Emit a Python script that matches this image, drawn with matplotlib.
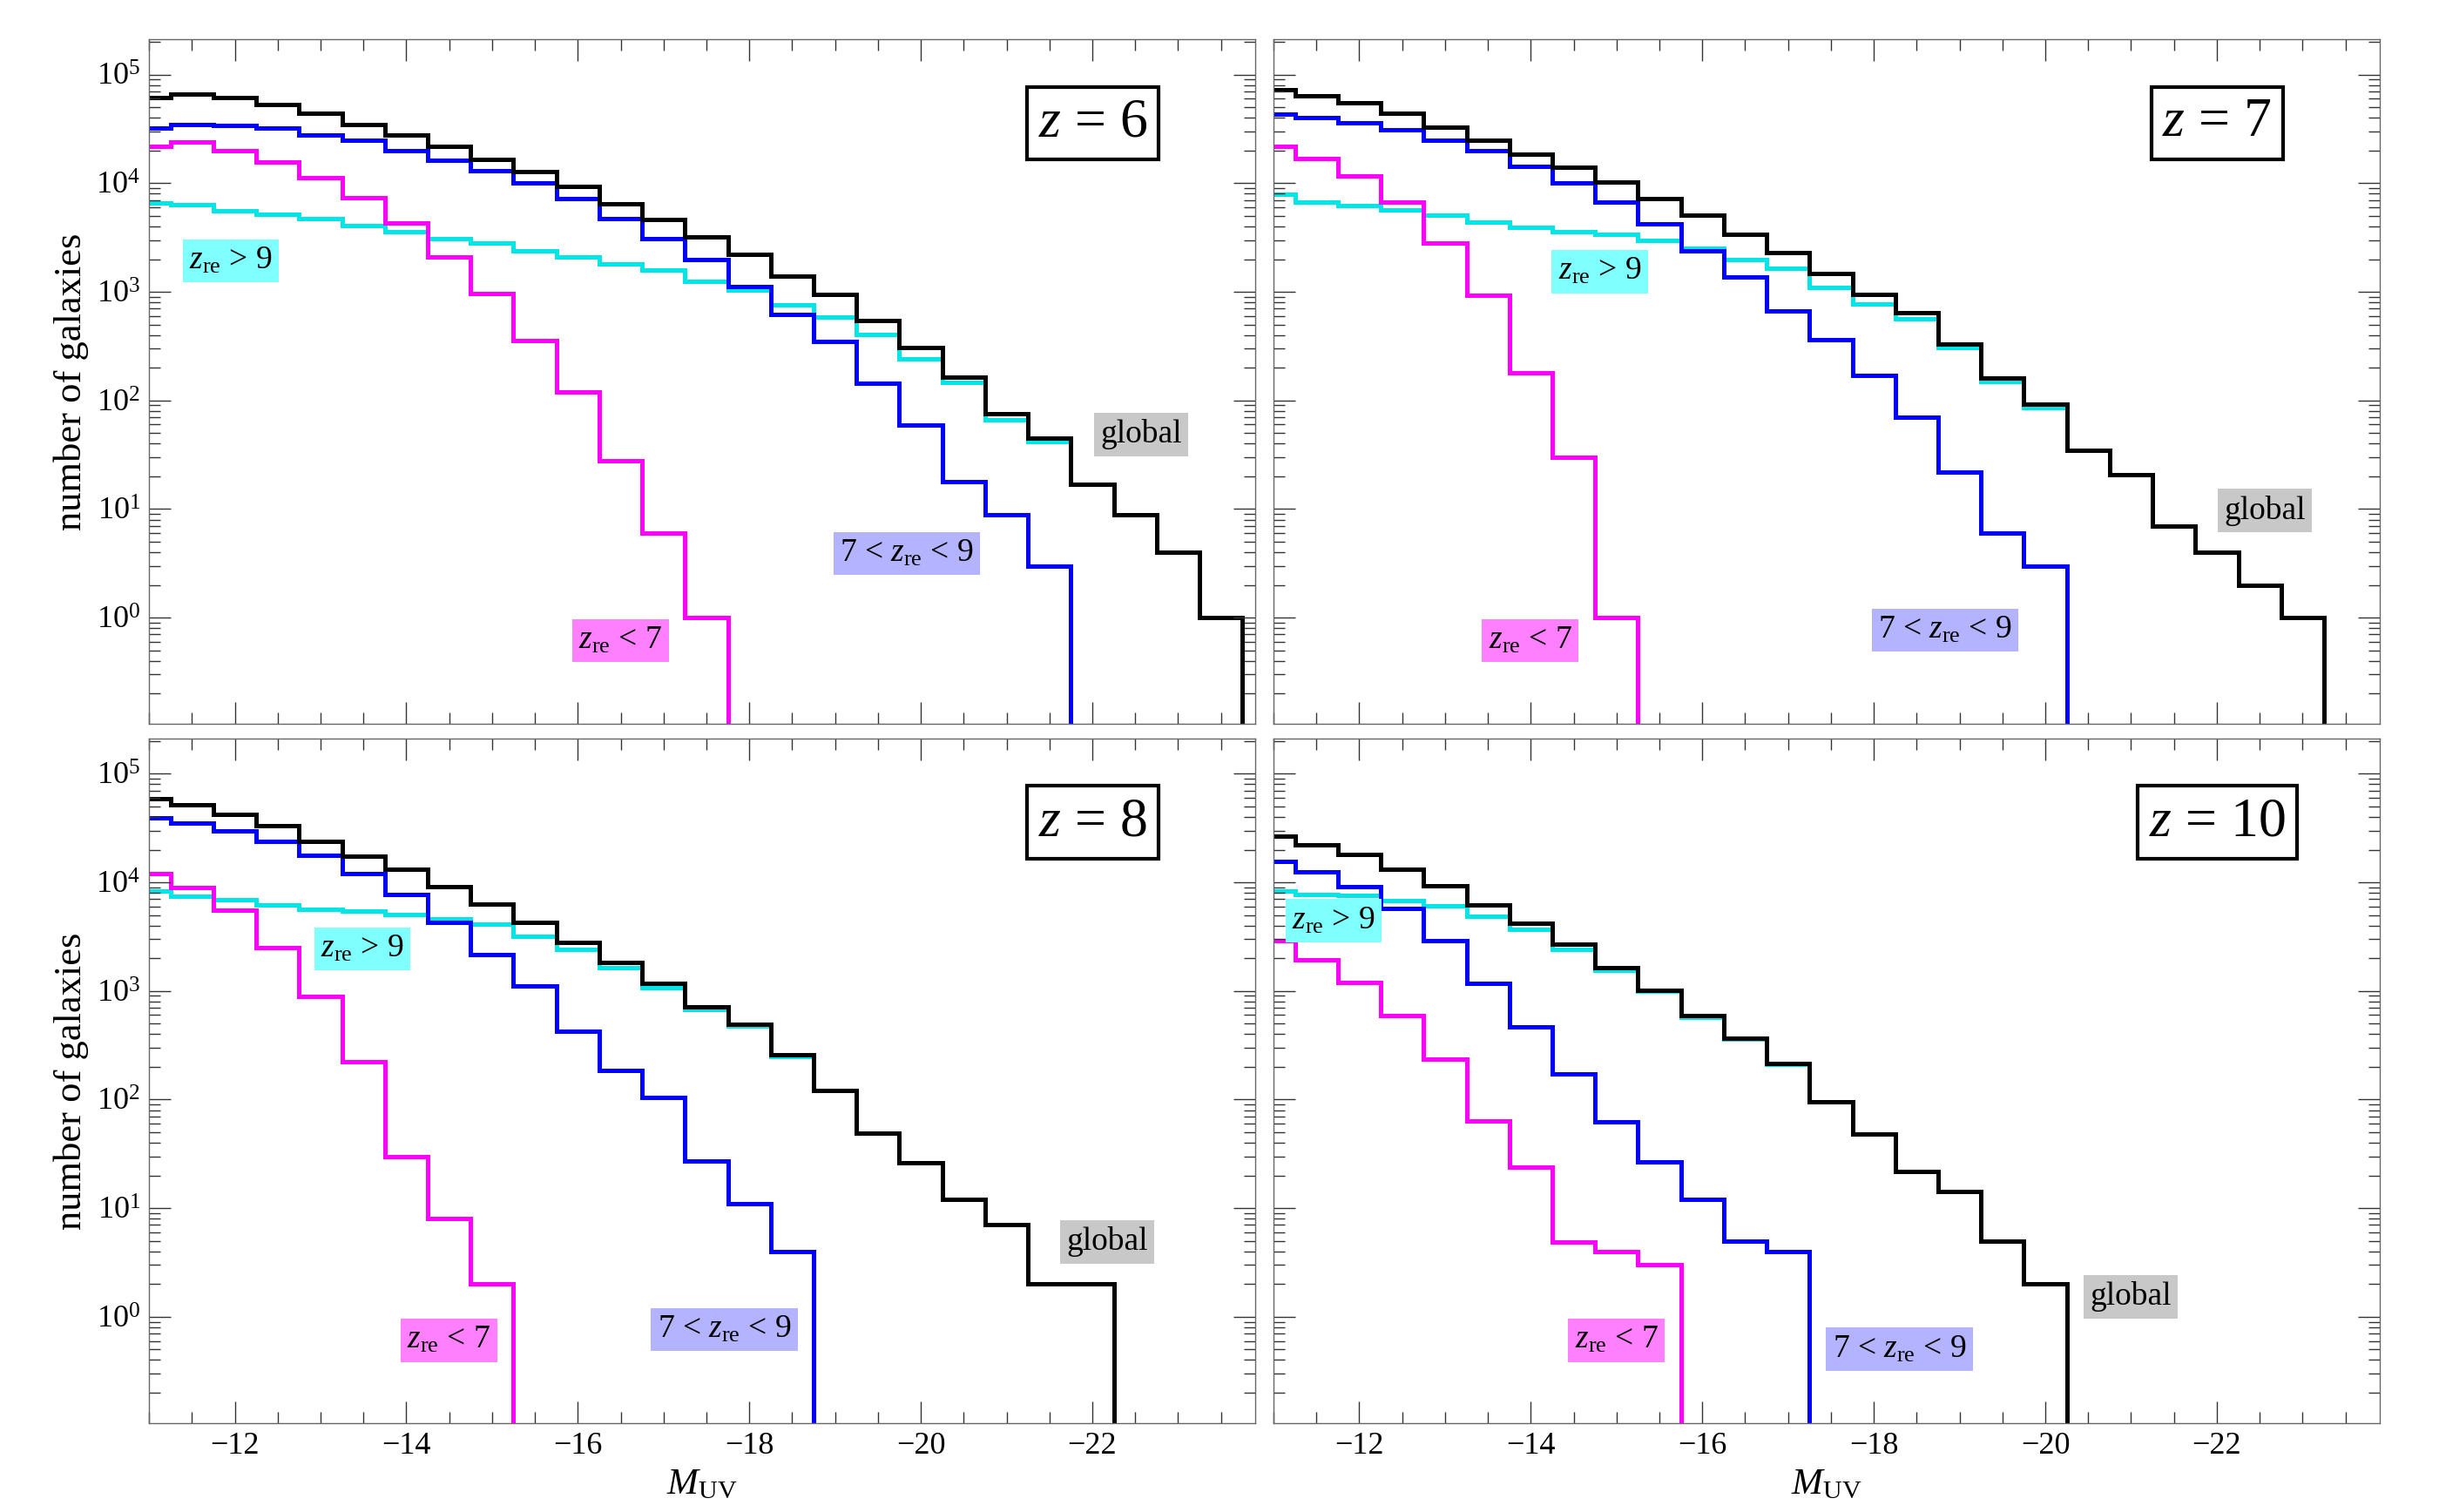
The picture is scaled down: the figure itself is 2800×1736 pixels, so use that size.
import numpy as np
import matplotlib
matplotlib.use("Agg")
import matplotlib.pyplot as plt
from matplotlib.ticker import MultipleLocator, LogLocator, NullFormatter

plt.rcParams['font.family'] = ['Liberation Serif', 'DejaVu Serif']
plt.rcParams['mathtext.fontset'] = 'custom'
plt.rcParams['mathtext.rm'] = 'Liberation Serif'
plt.rcParams['mathtext.it'] = 'Liberation Serif:italic'
plt.rcParams['mathtext.bf'] = 'Liberation Serif:bold'

# bin centres in M_UV (bins of 0.5 mag)
mag_centers = np.arange(-11.0, -24.0, -0.5)

redshifts = [6, 7, 8, 10]

# number of galaxies per bin
# global = all galaxies, early: z_re > 9, mid: 7 < z_re < 9, late: z_re < 7
global_z6 = [6.1e4, 6.6e4, 6.1e4, 5.3e4, 4.4e4, 3.5e4, 2.8e4, 2.2e4, 1.66e4, 1.27e4,
             9.3e3, 6.5e3, 4.6e3, 3.2e3, 2.2e3, 1.4e3, 940, 547, 305, 165, 75, 45,
             17, 8.8, 4, 1]
early_z6 = [6.6e3, 6.3e3, 5.6e3, 5.2e3, 4.7e3, 4.1e3, 3.6e3, 3.1e3, 2.8e3, 2.4e3,
            2.1e3, 1.8e3, 1.6e3, 1.24e3, 1.03e3, 760, 588, 406, 241, 146, 66, 42,
            17, 8.8, 4, 1]
mid_z6 = [3.2e4, 3.5e4, 3.4e4, 3.2e4, 2.8e4, 2.5e4, 2.0e4, 1.64e4, 1.3e4, 1.0e4,
          7.2e3, 4.7e3, 3.1e3, 2.0e3, 1.12e3, 625, 348, 144, 59, 17.8, 8.9, 3]
late_z6 = [2.2e4, 2.4e4, 2.0e4, 1.58e4, 1.13e4, 7.3e3, 4.3e3, 2.1e3, 970, 356,
           120, 27.7, 6, 1]

global_z7 = [7.3e4, 6.4e4, 5.5e4, 4.4e4, 3.3e4, 2.5e4, 1.86e4, 1.41e4, 1.03e4, 7.2e3,
             5.1e3, 3.4e3, 2.3e3, 1.48e3, 942, 645, 328, 160, 92, 34.7, 20.8, 7.0,
             4.0, 2.0, 1]
early_z7 = [7.9e3, 6.7e3, 6.2e3, 5.7e3, 5.1e3, 4.4e3, 3.9e3, 3.6e3, 3.4e3, 3.0e3,
            2.5e3, 2.0e3, 1.64e3, 1.1e3, 768, 565, 305, 149, 86.5, 34.7, 20.8, 7.0,
            4.0, 2.0, 1]
mid_z7 = [4.3e4, 4.0e4, 3.6e4, 3.1e4, 2.5e4, 2.0e4, 1.44e4, 1.0e4, 6.7e3, 4.2e3,
          2.4e3, 1.38e3, 665, 360, 170, 70, 22, 6, 3]
late_z7 = [2.2e4, 1.7e4, 1.17e4, 6.7e3, 2.8e3, 922, 179, 30, 1]

global_z8 = [5.9e4, 5.2e4, 4.2e4, 3.3e4, 2.4e4, 1.75e4, 1.31e4, 9.1e3, 6.3e3, 4.3e3,
             2.8e3, 1.84e3, 1.18e3, 718, 493, 261, 122, 49, 26, 12, 7.0, 2.0, 2.0]
early_z8 = [8.4e3, 7.5e3, 6.9e3, 6.2e3, 5.7e3, 5.4e3, 5.1e3, 4.6e3, 4.1e3, 3.2e3,
            2.4e3, 1.65e3, 1.08e3, 681, 478, 250, 122, 49, 26, 12, 7.0, 2.0, 2.0]
mid_z8 = [3.95e4, 3.5e4, 3.0e4, 2.4e4, 1.79e4, 1.2e4, 7.7e3, 4.3e3, 2.15e3, 1.12e3,
          426, 187, 104, 27, 11, 4.0]
late_z8 = [1.21e4, 8.9e3, 5.5e3, 2.5e3, 893, 225, 29.7, 8.1, 2.0]

global_z10 = [2.65e4, 2.2e4, 1.8e4, 1.32e4, 9.3e3, 6.2e3, 4.2e3, 2.7e3, 1.64e3, 1.02e3,
              595, 368, 216, 95, 48, 21.7, 14.2, 5.0, 2.0]
early_z10 = [8.4e3, 7.7e3, 7.6e3, 6.8e3, 6.1e3, 4.9e3, 3.7e3, 2.4e3, 1.54e3, 990,
             570, 363, 212, 95, 48, 21.7, 14.2, 5.0, 2.0]
mid_z10 = [1.56e4, 1.24e4, 9.2e3, 5.8e3, 2.9e3, 1.17e3, 468, 173, 62, 26.5, 12.1, 5.0, 4.0]
late_z10 = [2.9e3, 1.93e3, 1.2e3, 595, 235, 64, 24, 4.9, 4.0, 3.0]

series_names = ["early", "late", "mid", "global"]
series_colors = {"early": "#00e6e6", "late": "#ff00ff", "mid": "#0000ff", "global": "black"}
label_texts = {"early": r"$z_{\rm re}$ > 9", "mid": r"7 < $z_{\rm re}$ < 9",
               "late": r"$z_{\rm re}$ < 7", "global": "global"}
label_colors = {"early": "#80ffff", "mid": "#b3b3ff", "late": "#ff80ff", "global": "#c8c8c8"}

data = {
    6: {"global": global_z6, "early": early_z6, "mid": mid_z6, "late": late_z6},
    7: {"global": global_z7, "early": early_z7, "mid": mid_z7, "late": late_z7},
    8: {"global": global_z8, "early": early_z8, "mid": mid_z8, "late": late_z8},
    10: {"global": global_z10, "early": early_z10, "mid": mid_z10, "late": late_z10},
}

# label positions (axes fraction) per panel
label_pos = {
    6: {"early": (0.074, 0.677), "global": (0.897, 0.423), "mid": (0.685, 0.249), "late": (0.426, 0.122)},
    7: {"early": (0.295, 0.661), "global": (0.896, 0.312), "mid": (0.607, 0.137), "late": (0.232, 0.122)},
    8: {"early": (0.193, 0.693), "global": (0.866, 0.265), "mid": (0.520, 0.137), "late": (0.271, 0.121)},
    10: {"early": (0.0545, 0.734), "global": (0.775, 0.185), "mid": (0.566, 0.108), "late": (0.310, 0.121)},
}

fig, axes = plt.subplots(2, 2, figsize=(14, 8.68), dpi=200, sharex=True, sharey=True)
fig.subplots_adjust(left=0.0611, right=0.9757, bottom=0.0588, top=0.9738,
                    wspace=0.0165, hspace=0.0216)

for ax, z in zip(axes.flat, redshifts):
    for name in series_names:
        vals = np.array(data[z][name], dtype=float)
        cen = mag_centers[:len(vals)]
        edges = np.append(cen + 0.25, cen[-1] - 0.25)
        ax.stairs(vals, edges, baseline=1e-3, color=series_colors[name], lw=1.8)

    for name in ["early", "mid", "late", "global"]:
        x, y = label_pos[z][name]
        ax.text(x, y, label_texts[name], transform=ax.transAxes, ha='center', va='center',
                fontsize=13.5, zorder=5,
                bbox=dict(boxstyle='square,pad=0.2', fc=label_colors[name], ec='none'))

    ax.text(0.853, 0.878, r"$z$ = %d" % z, transform=ax.transAxes, ha='center', va='center',
            fontsize=23, zorder=5,
            bbox=dict(boxstyle='square,pad=0.2', fc='white', ec='black', lw=1.5))

    ax.set_yscale('log')
    ax.set_xlim(-11, -23.9)
    ax.set_ylim(0.105, 2.1e5)
    ax.xaxis.set_major_locator(MultipleLocator(2))
    ax.xaxis.set_minor_locator(MultipleLocator(0.5))
    ax.yaxis.set_major_locator(LogLocator(base=10, numticks=20))
    ax.yaxis.set_minor_locator(LogLocator(base=10, subs=np.arange(2, 10), numticks=20))
    ax.yaxis.set_minor_formatter(NullFormatter())
    ax.tick_params(which='both', direction='in', top=True, right=True,
                   width=0.5, color='#333333', labelsize=13, pad=3.6)
    ax.tick_params(which='major', length=9)
    ax.tick_params(which='minor', length=4.6)
    for sp in ax.spines.values():
        sp.set_color('#666666')
        sp.set_linewidth(0.5)

for ax in axes[:, 0]:
    ax.set_ylabel("number of galaxies", fontsize=16)
    ax.yaxis.label.set_va('center')
    ax.yaxis.set_label_coords(-0.07, 0.5)

for ax in axes[1, :]:
    ax.set_xlabel(r"$M_{\rm UV}$", fontsize=15.5)
    ax.xaxis.set_label_coords(0.5, -0.066)

fig.savefig("out.png", dpi=200)
